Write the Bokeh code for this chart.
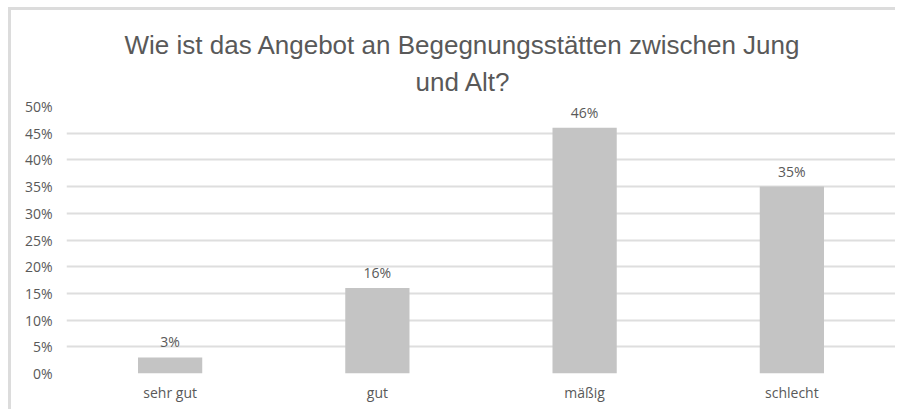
from bokeh.plotting import figure
from bokeh.models import ColumnDataSource, LabelSet, NumeralTickFormatter, FixedTicker, Range1d, Title
from bokeh.core.properties import value
from bokeh.embed import file_html
from bokeh.resources import INLINE

categories = ["sehr gut", "gut", "mäßig", "schlecht"]
values = [0.03, 0.16, 0.46, 0.35]
value_labels = ["3%", "16%", "46%", "35%"]
y_ticks = [0, 0.05, 0.10, 0.15, 0.20, 0.25, 0.30, 0.35, 0.40, 0.45, 0.50]

title_line1 = "Wie ist das Angebot an Begegnungsstätten zwischen Jung"
title_line2 = "und Alt?"

src = ColumnDataSource(dict(cat=categories, val=values, lab=value_labels))

p = figure(x_range=categories, y_range=Range1d(0, 0.5), width=895, height=409,
           output_backend="svg", toolbar_location=None, title=None,
           min_border_left=66, min_border_right=0, min_border_top=106, min_border_bottom=36)
p.x_range.range_padding = 0
p.x_range.factor_padding = 0

p.vbar(x="cat", top="val", width=0.31, source=src, color="#c4c4c4", line_color=None)

labels = LabelSet(x="cat", y="val", text="lab", source=src, y_offset=6,
                  text_align="center", text_baseline="bottom",
                  text_font=value("Open Sans"), text_font_size=value("14px"),
                  text_color=value("#595959"))
p.add_layout(labels)

t2 = Title(text=title_line2, align="left", vertical_align="top",
           text_font="Liberation Sans", text_font_size="26px",
           text_font_style="normal", text_color="#595959", offset=349, standoff=15,
           text_line_height=1.0)
p.add_layout(t2, "above")
t1 = Title(text=title_line1, align="left", vertical_align="bottom",
           text_font="Liberation Sans", text_font_size="26px",
           text_font_style="normal", text_color="#595959", offset=58, standoff=0,
           text_line_height=1.0)
p.add_layout(t1, "above")

p.yaxis.ticker = FixedTicker(ticks=y_ticks)
p.yaxis.formatter = NumeralTickFormatter(format="0%")
p.yaxis.axis_line_color = None
p.yaxis.major_tick_line_color = None
p.yaxis.minor_tick_line_color = None
p.yaxis.major_label_standoff = 8
p.yaxis.major_label_text_font = "Open Sans"
p.yaxis.major_label_text_font_size = "14px"
p.yaxis.major_label_text_color = "#595959"

p.xaxis.axis_line_color = None
p.xaxis.major_tick_line_color = None
p.xaxis.minor_tick_line_color = None
p.xaxis.major_label_standoff = 3
p.xaxis.major_label_text_font = "Open Sans"
p.xaxis.major_label_text_font_size = "14px"
p.xaxis.major_label_text_color = "#595959"

p.xgrid.grid_line_color = None
p.ygrid.grid_line_color = "#dedede"
p.ygrid.grid_line_width = 2
p.outline_line_color = None
p.border_fill_color = None
p.background_fill_color = "white"
p.styles = {"box-shadow": "inset 8px 7px 0 #ffffff, inset 11px 10px 0 #dcdcdc"}

open("out.html", "w").write(file_html(p, INLINE))
